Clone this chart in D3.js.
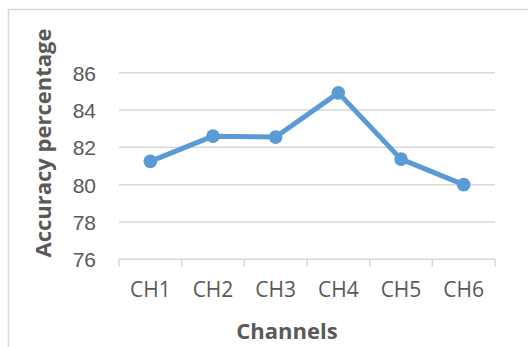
<!DOCTYPE html>
<html>
<head>
<meta charset="utf-8">
<script src="https://cdn.jsdelivr.net/npm/d3@7"></script>
<style>
  body { margin: 0; background: #fff; }
  svg { display: block; font-family: "Open Sans", sans-serif; }
</style>
</head>
<body>
<svg id="chart" width="528" height="347"></svg>
<script>
// data
const channels = ["CH1", "CH2", "CH3", "CH4", "CH5", "CH6"];
const accuracy = [81.25, 82.6, 82.55, 84.92, 81.37, 80.0];
const yTicks = [76, 78, 80, 82, 84, 86];

const svg = d3.select("#chart");
const textColor = "#595959";
const gridColor = "#d9d9d9";
const lineColor = "#5b9bd5";

// chart frame (only top and left edges show in the crop)
svg.append("path")
    .attr("d", "M8.5,347 V9.5 H528")
    .attr("fill", "none")
    .attr("stroke", gridColor)
    .attr("stroke-width", 1.5);

const m = { left: 119, right: 495, top: 72.7, bottom: 259.3 };

const x = d3.scaleBand().domain(channels).range([m.left, m.right]);
const y = d3.scaleLinear().domain([76, 86]).range([m.bottom, m.top]);

// horizontal gridlines
svg.append("g")
    .selectAll("line")
    .data(yTicks.slice(1))
    .join("line")
    .attr("x1", m.left).attr("x2", m.right)
    .attr("y1", d => y(d)).attr("y2", d => y(d))
    .attr("stroke", gridColor)
    .attr("stroke-width", 1.5);

// y axis labels
const yAxis = svg.append("g")
    .attr("transform", `translate(${m.left},0)`)
    .call(d3.axisLeft(y).tickValues(yTicks).tickSize(0).tickPadding(23));
yAxis.select(".domain").remove();
yAxis.selectAll("text")
    .attr("fill", textColor)
    .style("font-size", "21px")
    .attr("dy", "0.36em");

// x axis with tick marks at the category boundaries
const xAxis = svg.append("g")
    .attr("transform", `translate(0,${m.bottom})`);
xAxis.append("line")
    .attr("x1", m.left).attr("x2", m.right)
    .attr("stroke", gridColor).attr("stroke-width", 1.5);
const edges = channels.map(c => x(c)).concat([x.range()[1]]);
xAxis.selectAll("line.tick")
    .data(edges)
    .join("line")
    .attr("class", "tick")
    .attr("x1", d => d).attr("x2", d => d)
    .attr("y1", 0).attr("y2", 7.5)
    .attr("stroke", gridColor).attr("stroke-width", 1.5);
xAxis.selectAll("text")
    .data(channels)
    .join("text")
    .attr("x", d => x(d) + x.bandwidth() / 2)
    .attr("y", 37.5)
    .attr("text-anchor", "middle")
    .attr("fill", textColor)
    .style("font-size", "21px")
    .text(d => d);

// line + markers
const pts = channels.map((c, i) => [x(c) + x.bandwidth() / 2, y(accuracy[i])]);
svg.append("path")
    .attr("d", d3.line()(pts))
    .attr("fill", "none")
    .attr("stroke", lineColor)
    .attr("stroke-width", 5)
    .attr("stroke-linejoin", "round")
    .attr("stroke-linecap", "round");
svg.append("g")
    .selectAll("circle")
    .data(pts)
    .join("circle")
    .attr("cx", d => d[0]).attr("cy", d => d[1])
    .attr("r", 6.8)
    .attr("fill", lineColor);

// axis titles
svg.append("text")
    .attr("transform", "translate(51,143) rotate(-90)")
    .attr("text-anchor", "middle")
    .attr("fill", textColor)
    .style("font-size", "22px")
    .style("font-weight", "bold")
    .text("Accuracy percentage");

svg.append("text")
    .attr("x", 287)
    .attr("y", 339)
    .attr("text-anchor", "middle")
    .attr("fill", textColor)
    .style("font-size", "22px")
    .style("font-weight", "bold")
    .text("Channels");
</script>
</body>
</html>
